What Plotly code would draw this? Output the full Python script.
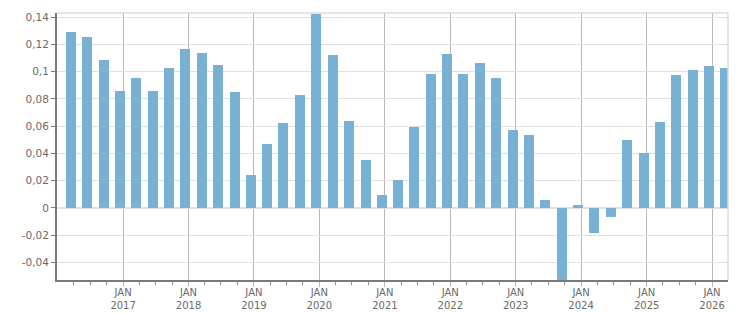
import plotly.graph_objects as go
import pandas as pd

# Quarterly observations (mid-quarter dates), Feb 2016 .. Feb 2026
dates = pd.date_range("2016-02-15", periods=41, freq="3MS") + pd.Timedelta(days=14)
values = [
    0.1294, 0.1257, 0.1088, 0.0860, 0.0956, 0.0860, 0.1029, 0.1169, 0.1139, 0.1051,
    0.0853, 0.0243, 0.0470, 0.0625, 0.0831, 0.1426, 0.1125, 0.0639, 0.0353, 0.0096,
    0.0206, 0.0595, 0.0985, 0.1132, 0.0985, 0.1066, 0.0956, 0.0573, 0.0537, 0.0059,
    -0.0560, 0.0022, -0.0184, -0.0066, 0.0500, 0.0404, 0.0632, 0.0978, 0.1014, 0.1044,
    0.1029,
]

y_tickvals = [-0.04, -0.02, 0, 0.02, 0.04, 0.06, 0.08, 0.1, 0.12, 0.14]
y_ticktext = ["-0,04", "-0,02", "0", "0,02", "0,04", "0,06", "0,08", "0,1", "0,12", "0,14"]
x_years = list(range(2017, 2027))
x_tickvals = [f"{y}-01-01" for y in x_years]
x_ticktext = [f"JAN<br>{y}" for y in x_years]
quarter_ticks = [d for d in pd.date_range("2016-04-01", "2026-03-01", freq="3MS") if d.month != 1]

bar_color = "#78b1d3"
font_family = "DejaVu Sans"
text_color = "#6a6a6a"

fig = go.Figure(go.Bar(
    x=dates, y=values, marker=dict(color=bar_color, line=dict(width=0)),
    width=56 * 86400000,
))

fig.update_layout(
    width=751, height=313,
    margin=dict(l=57, r=23, t=13, b=33, autoexpand=False),
    plot_bgcolor="white", paper_bgcolor="white",
    showlegend=False, bargap=0,
    font=dict(family=font_family, size=10, color=text_color),
    shapes=[
        dict(type="line", xref="paper", yref="paper", x0=0, x1=1, y0=1, y1=1,
             line=dict(color="#dcdcdc", width=1.5)),
        dict(type="line", xref="paper", yref="paper", x0=1, x1=1, y0=0, y1=1,
             line=dict(color="#dcdcdc", width=1.5)),
    ],
)

fig.update_xaxes(
    type="date",
    range=["2015-12-29", "2026-03-31"],
    tickmode="array", tickvals=x_tickvals, ticktext=x_ticktext,
    showgrid=True, gridcolor="#b8b8b8", gridwidth=1.2,
    ticks="outside", ticklen=5, tickcolor="#b8b8b8",
    showline=True, linecolor="#7a7a7a", linewidth=2,
    minor=dict(tickmode="array", tickvals=quarter_ticks, ticks="outside", ticklen=3,
               tickcolor="#8a8a8a", showgrid=False),
    tickfont=dict(family=font_family, size=10, color=text_color),
    ticklabelstandoff=-3,
    zeroline=False, automargin=False,
)

fig.update_yaxes(
    range=[-0.0529, 0.1431],
    tickmode="array", tickvals=y_tickvals, ticktext=y_ticktext,
    showgrid=True, gridcolor="#e0e0e0", gridwidth=1.2,
    ticks="outside", ticklen=4, tickcolor="#7a7a7a",
    showline=True, linecolor="#7a7a7a", linewidth=2,
    zeroline=True, zerolinecolor="#e0e0e0", zerolinewidth=1.5,
    tickfont=dict(family=font_family, size=10.5, color=text_color),
    automargin=False,
)

fig.write_html("out.html")
